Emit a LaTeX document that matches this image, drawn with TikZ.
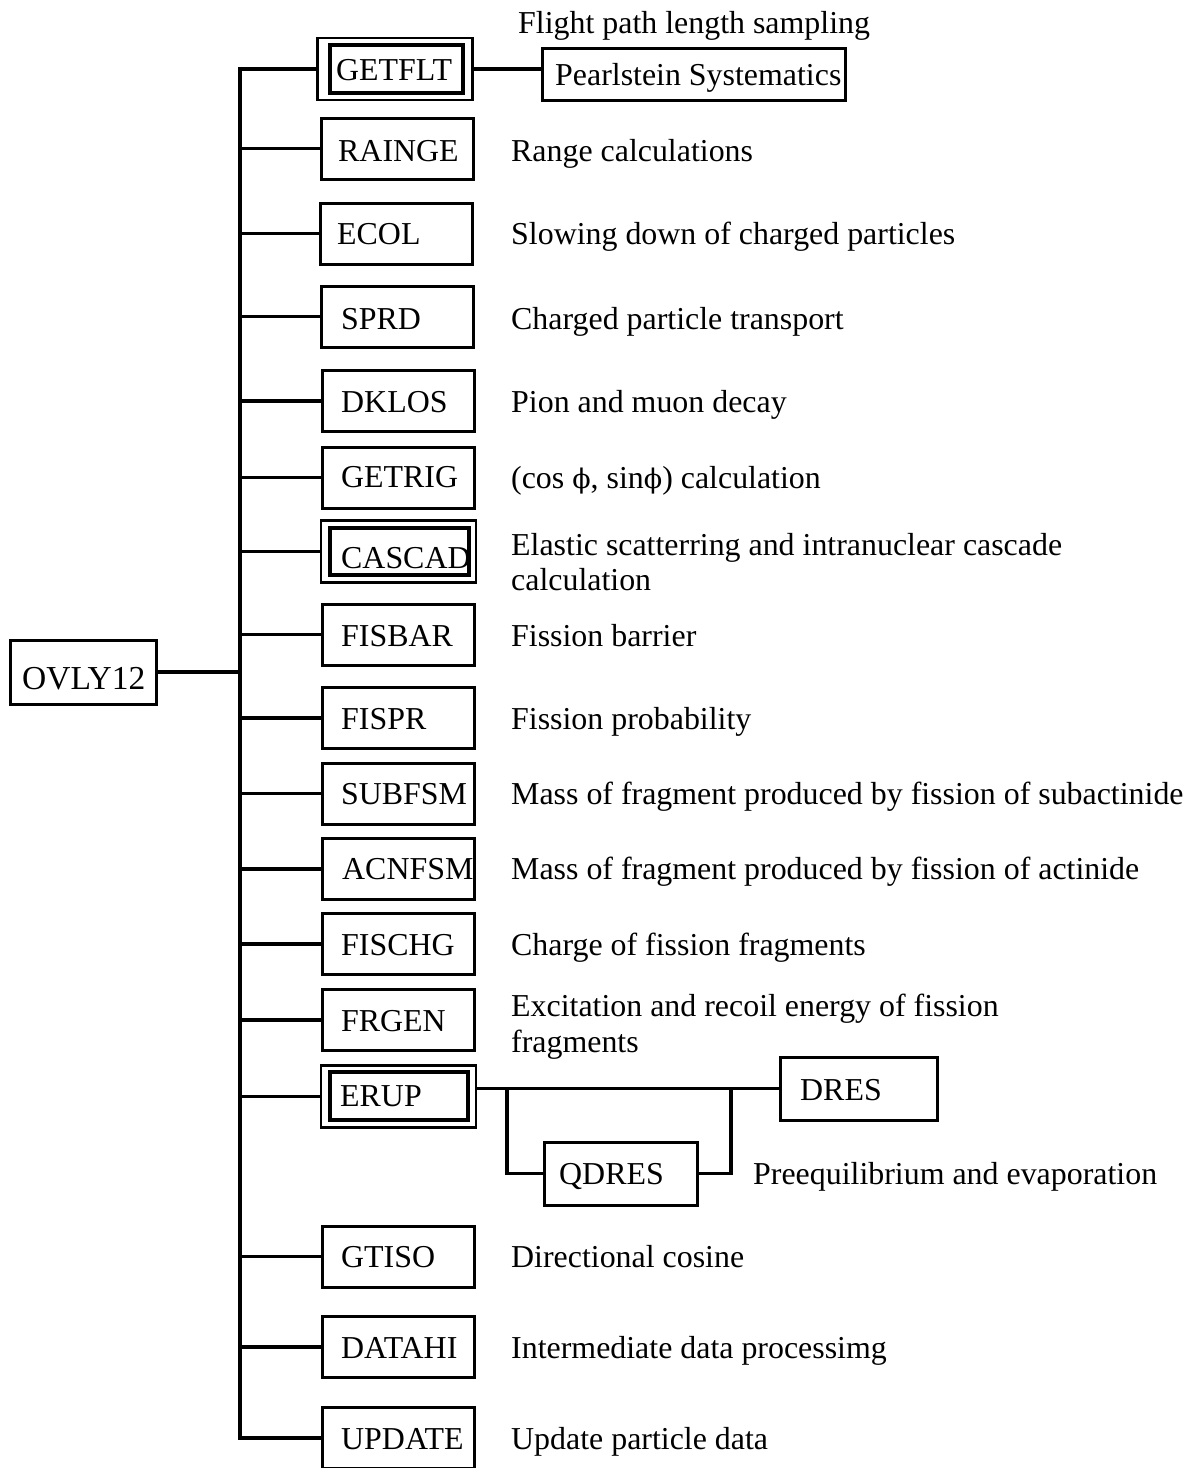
\documentclass[tikz,border=0pt]{standalone}
\usepackage{fontspec}
\setmainfont{Liberation Serif}
\newfontfamily\phifont{DejaVu Serif}
\newcommand\upphi{{\phifont\fontsize{27}{30}\selectfont ϕ}}
\begin{document}
\begin{tikzpicture}[x=1pt,y=-1pt,
  every node/.style={font=\fontsize{31.9}{35.5}\selectfont},
  modbox/.style={draw,line width=3pt,inner sep=0pt,minimum width=152pt,minimum height=61pt},
  outerbox/.style={draw,line width=2.6pt,inner sep=0pt,minimum width=155pt,minimum height=62pt},
  innerbox/.style={draw,line width=4pt,inner sep=0pt,minimum width=136pt,minimum height=47pt},
  lbl/.style={inner sep=0pt,anchor=base west},
  desc/.style={inner sep=0pt,anchor=base west},
  link/.style={line width=3.4pt}]
\useasboundingbox (0,0) rectangle (1196,1468);

% root module
\node[modbox,minimum width=146pt,minimum height=64pt] (ovly) at (83,672) {};
\node[lbl,font=\fontsize{33.5}{36}\selectfont] (ovly-t) at (22,689) {OVLY12};

% trunk position
\coordinate (tr) at (240,68);

% GETFLT with its sub-call
\node[outerbox] (getflt) at (395,69) {};
\node[innerbox,minimum width=133pt,minimum height=48pt] (getflt-in) at (396.5,69) {};
\node[lbl] (getflt-t) at (336,80) {GETFLT};
\node[draw,line width=3pt,inner sep=0pt,minimum width=303pt,minimum height=52pt] (pearl) at (693.5,74) {};
\node[lbl] (pearl-t) at (555,85) {Pearlstein Systematics};
\node[desc] (getflt-d) at (518,33) {Flight path length sampling};

% single modules
\node[modbox] (rainge) at (397,148.5) {};
\node[lbl] (rainge-t) at (338,161) {RAINGE};
\node[desc] (rainge-d) at (511,161) {Range calculations};

\node[modbox] (ecol) at (396,233.5) {};
\node[lbl] (ecol-t) at (337,244) {ECOL};
\node[desc] (ecol-d) at (511,244) {Slowing down of charged particles};

\node[modbox] (sprd) at (397.5,316.5) {};
\node[lbl] (sprd-t) at (341,329) {SPRD};
\node[desc] (sprd-d) at (511,329) {Charged particle transport};

\node[modbox] (dklos) at (398,401) {};
\node[lbl] (dklos-t) at (341,412) {DKLOS};
\node[desc] (dklos-d) at (511,412) {Pion and muon decay};

\node[modbox] (getrig) at (398,477.5) {};
\node[lbl] (getrig-t) at (341,487) {GETRIG};
\node[desc] (getrig-d) at (511,488) {(cos \upphi, sin\upphi) calculation};

% CASCAD (double frame)
\node[outerbox] (cascad) at (398.5,551.5) {};
\node[innerbox,minimum width=139pt] (cascad-in) at (399.5,551.5) {};
\node[lbl] (cascad-t) at (341,568) {CASCAD};
\node[desc] (cascad-d1) at (511,555) {Elastic scatterring and intranuclear cascade};
\node[desc] (cascad-d2) at (511,590) {calculation};

\node[modbox] (fisbar) at (398,634.5) {};
\node[lbl] (fisbar-t) at (341,646) {FISBAR};
\node[desc] (fisbar-d) at (511,646) {Fission barrier};

\node[modbox] (fispr) at (398,718) {};
\node[lbl] (fispr-t) at (341,729) {FISPR};
\node[desc] (fispr-d) at (511,729) {Fission probability};

\node[modbox] (subfsm) at (398,793.5) {};
\node[lbl] (subfsm-t) at (341,804) {SUBFSM};
\node[desc] (subfsm-d) at (511,804) {Mass of fragment produced by fission of subactinide};

\node[modbox] (acnfsm) at (398,869) {};
\node[lbl] (acnfsm-t) at (342,879) {ACNFSM};
\node[desc] (acnfsm-d) at (511,879) {Mass of fragment produced by fission of actinide};

\node[modbox] (fischg) at (398,944) {};
\node[lbl] (fischg-t) at (341,955) {FISCHG};
\node[desc] (fischg-d) at (511,955) {Charge of fission fragments};

\node[modbox] (frgen) at (398,1020) {};
\node[lbl] (frgen-t) at (341,1031) {FRGEN};
\node[desc] (frgen-d1) at (511,1016) {Excitation and recoil energy of fission};
\node[desc] (frgen-d2) at (511,1052) {fragments};

% ERUP (double frame) and its sub-calls
\node[outerbox] (erup) at (398.5,1096.5) {};
\node[innerbox,minimum width=138pt,minimum height=48pt] (erup-in) at (399,1096) {};
\node[lbl] (erup-t) at (340,1106) {ERUP};
\node[modbox,minimum width=157pt,minimum height=63pt] (dres) at (858.5,1088.5) {};
\node[lbl] (dres-t) at (800,1100) {DRES};
\node[modbox,minimum width=153pt,minimum height=63pt] (qdres) at (620.5,1173.5) {};
\node[lbl] (qdres-t) at (559,1184) {QDRES};
\node[desc] (qdres-d) at (753,1184) {Preequilibrium and evaporation};
\coordinate (j1) at (507,1089);
\coordinate (j2) at (731,1089);

\node[modbox] (gtiso) at (398,1256.5) {};
\node[lbl] (gtiso-t) at (341,1267) {GTISO};
\node[desc] (gtiso-d) at (511,1267) {Directional cosine};

\node[modbox] (datahi) at (398,1347) {};
\node[lbl] (datahi-t) at (341,1358) {DATAHI};
\node[desc] (datahi-d) at (511,1358) {Intermediate data processimg};

\node[modbox] (update) at (398,1438) {};
\node[lbl] (update-t) at (341,1449) {UPDATE};
\node[desc] (update-d) at (511,1449) {Update particle data};

% connectors
\draw[link] (getflt.west) -- (getflt.west -| tr) -- (update.west -| tr) -- (update.west);
\draw[link] (ovly.east) -- (ovly.east -| tr);
\foreach \m in {rainge,ecol,sprd,dklos,getrig,cascad,fisbar,fispr,subfsm,acnfsm,fischg,frgen,erup,gtiso,datahi}
  \draw[link] (\m.west -| tr) -- (\m.west);
\draw[link] (getflt.east) -- (getflt.east -| pearl.west);
\draw[link] (erup.east |- dres.west) -- (dres.west);
\draw[link] (j1) |- (qdres.west);
\draw[link] (qdres.east) -| (j2);
\end{tikzpicture}
\end{document}
